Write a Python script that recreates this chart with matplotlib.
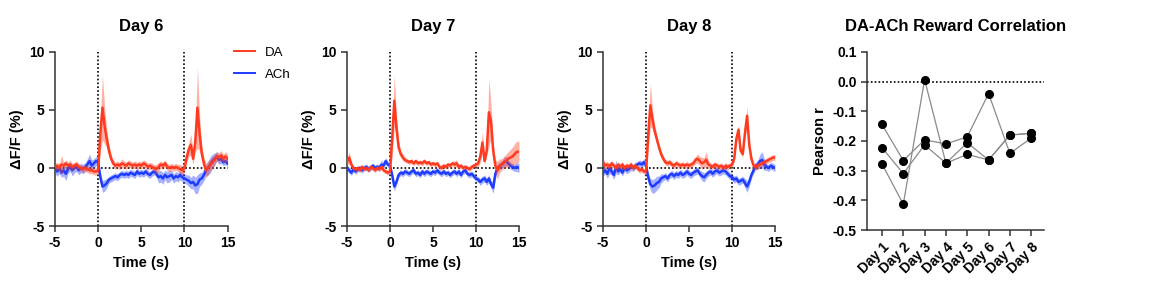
import matplotlib.pyplot as plt
import numpy as np

plt.rcParams['font.family'] = ['Liberation Sans', 'DejaVu Sans']
plt.rcParams['font.weight'] = 'bold'
plt.rcParams['axes.unicode_minus'] = False

RED = '#ff3a1e'
BLUE = '#1e3cff'

# photometry traces, 0.25 s bins from -5 to 15 s
time_s = np.arange(-5, 15.01, 0.25)

day6_da = [0.1, 0.2, 0.0, 0.3, 0.2, 0.4, 0.2, 0.3, 0.1, 0.2, 0.3, 0.1, 0.0, -0.1, 0.0, -0.1, -0.2, -0.2, -0.3, -0.3,
           -0.2, 3.0, 5.2, 3.6, 2.5, 1.5, 0.8, 0.4, 0.2, 0.3, 0.2, 0.4, 0.3, 0.2, 0.4, 0.3, 0.2, 0.3, 0.2, 0.3,
           0.2, 0.4, 0.3, 0.1, 0.2, 0.1, 0.0, -0.1, 0.1, 0.3, 0.2, 0.4, 0.1, 0.0, 0.1, 0.0, 0.1, 0.0, -0.1, -0.2,
           0.0, 0.9, 1.6, 2.0, 0.8, 2.2, 5.2, 3.0, 1.3, 0.4, -0.2, 0.0, 0.3, 0.5, 0.7, 1.0, 0.9, 1.1, 0.8, 1.0, 0.8]
day6_da_sem = [0.3, 0.3, 0.3, 0.8, 0.3, 0.3, 0.3, 0.4, 0.3, 0.3, 0.3, 0.3, 0.3, 0.3, 0.3, 0.3, 0.3, 0.3, 0.3, 0.3,
               0.3, 1.5, 2.8, 1.5, 0.8, 0.5, 0.4, 0.3, 0.3, 0.3, 0.3, 0.4, 0.3, 0.3, 0.3, 0.3, 0.3, 0.3, 0.3, 0.3,
               0.3, 0.3, 0.3, 0.3, 0.3, 0.3, 0.3, 0.4, 0.4, 0.3, 0.3, 0.3, 0.3, 0.3, 0.3, 0.3, 0.3, 0.3, 0.4, 0.4,
               0.4, 0.5, 0.6, 0.9, 0.5, 0.8, 3.5, 1.5, 0.6, 0.5, 0.6, 0.6, 0.5, 0.5, 0.5, 0.4, 0.4, 0.4, 0.4, 0.4, 0.4]
day6_ach = [-0.1, -0.3, 0.0, -0.4, -0.2, -0.5, -0.1, 0.1, -0.2, 0.0, 0.1, -0.2, 0.0, -0.1, 0.1, 0.3, 0.6, 0.2, 0.4, 0.6,
            0.5, -0.8, -1.6, -1.5, -1.3, -1.0, -0.9, -0.8, -0.7, -0.8, -0.6, -0.5, -0.6, -0.5, -0.6, -0.4, -0.5, -0.6, -0.3, -0.5,
            -0.4, -0.5, -0.3, -0.5, -0.6, -0.4, -0.3, -0.5, -0.8, -0.7, -0.9, -0.6, -0.8, -0.7, -0.6, -0.9, -0.7, -0.8, -0.6, -0.8,
            -0.9, -1.0, -1.1, -1.3, -1.2, -1.5, -1.4, -1.0, -0.9, -0.6, -0.2, 0.0, 0.3, 0.6, 0.8, 1.0, 0.7, 0.8, 0.5, 0.6, 0.4]
day6_ach_sem = [0.4, 0.4, 0.5, 0.4, 0.5, 0.6, 0.4, 0.4, 0.5, 0.4, 0.4, 0.4, 0.4, 0.4, 0.4, 0.5, 0.6, 0.5, 0.4, 0.4,
                0.4, 0.4, 0.5, 0.5, 0.4, 0.3, 0.3, 0.3, 0.3, 0.3, 0.3, 0.3, 0.3, 0.3, 0.3, 0.3, 0.3, 0.3, 0.3, 0.3,
                0.3, 0.3, 0.3, 0.3, 0.3, 0.3, 0.3, 0.3, 0.5, 0.5, 0.5, 0.4, 0.5, 0.5, 0.4, 0.4, 0.4, 0.4, 0.4, 0.4,
                0.4, 0.4, 0.5, 0.5, 0.6, 0.7, 0.8, 0.6, 0.5, 0.5, 0.5, 0.6, 0.7, 0.6, 0.5, 0.4, 0.4, 0.4, 0.3, 0.3, 0.3]

day7_da = [0.5, 0.9, 0.3, 0.0, -0.1, 0.0, -0.2, 0.1, -0.1, 0.0, -0.2, 0.1, 0.0, -0.2, 0.0, -0.1, 0.1, -0.2, -0.3, -0.4,
           -0.3, 2.5, 5.8, 3.5, 1.8, 1.2, 0.9, 0.7, 0.6, 0.5, 0.6, 0.4, 0.6, 0.4, 0.5, 0.4, 0.6, 0.4, 0.5, 0.3,
           0.4, 0.3, 0.4, 0.1, 0.0, 0.2, 0.1, 0.3, 0.2, 0.4, 0.3, 0.4, 0.1, 0.2, 0.0, 0.1, 0.0, -0.1, 0.1, 0.2,
           0.3, 0.4, 1.0, 2.2, 0.6, 1.5, 4.8, 4.0, 1.5, 0.2, -0.2, 0.2, 0.3, 0.5, 0.6, 0.8, 0.9, 1.0, 1.2, 1.4, 1.4]
day7_da_sem = [0.3, 0.5, 0.3, 0.2, 0.2, 0.2, 0.2, 0.2, 0.2, 0.2, 0.2, 0.2, 0.2, 0.2, 0.2, 0.2, 0.2, 0.2, 0.2, 0.2,
               0.2, 1.5, 2.2, 1.0, 0.5, 0.3, 0.3, 0.2, 0.2, 0.2, 0.2, 0.2, 0.2, 0.2, 0.2, 0.2, 0.2, 0.2, 0.2, 0.2,
               0.2, 0.2, 0.2, 0.2, 0.2, 0.2, 0.2, 0.2, 0.2, 0.2, 0.3, 0.3, 0.2, 0.2, 0.2, 0.2, 0.2, 0.2, 0.2, 0.2,
               0.2, 0.3, 0.5, 0.9, 0.3, 0.5, 2.9, 1.5, 0.6, 0.5, 0.8, 0.6, 0.5, 0.5, 0.6, 0.6, 0.7, 0.8, 0.9, 0.9, 0.9]
day7_ach = [0.0, -0.2, -0.4, -0.1, -0.3, -0.1, 0.0, -0.2, 0.0, 0.1, -0.1, 0.0, 0.2, 0.0, 0.1, 0.0, 0.3, 0.2, 0.6, 0.3,
            0.2, -0.6, -1.6, -1.2, -0.6, -0.4, -0.5, -0.3, -0.4, -0.5, -0.3, -0.2, -0.5, -0.4, -0.6, -0.3, -0.5, -0.3, -0.4, -0.5,
            -0.3, -0.4, -0.2, -0.4, -0.5, -0.3, -0.5, -0.4, -0.6, -0.4, -0.3, -0.5, -0.3, -0.6, -0.3, -0.2, -0.5, -0.6, -0.5, -0.7,
            -0.9, -1.0, -1.2, -1.0, -0.9, -1.2, -0.9, -1.4, -1.7, -0.5, 0.0, 0.2, 0.3, 0.5, 0.6, 0.4, 0.2, 0.1, 0.0, 0.1, 0.0]
day7_ach_sem = [0.25, 0.25, 0.25, 0.25, 0.25, 0.25, 0.25, 0.25, 0.25, 0.25, 0.25, 0.25, 0.25, 0.25, 0.25, 0.25, 0.4, 0.25, 0.3, 0.25,
                0.25, 0.3, 0.4, 0.3, 0.25, 0.25, 0.25, 0.25, 0.25, 0.25, 0.25, 0.25, 0.25, 0.25, 0.25, 0.25, 0.25, 0.25, 0.25, 0.25,
                0.25, 0.25, 0.25, 0.25, 0.25, 0.25, 0.25, 0.25, 0.25, 0.25, 0.25, 0.25, 0.25, 0.25, 0.25, 0.25, 0.25, 0.25, 0.25, 0.25,
                0.25, 0.25, 0.3, 0.3, 0.3, 0.3, 0.3, 0.3, 0.5, 0.4, 0.3, 0.3, 0.3, 0.4, 0.4, 0.3, 0.3, 0.3, 0.3, 0.4, 0.4]

day8_da = [0.5, 0.2, 0.3, 0.1, 0.4, 0.2, 0.0, 0.3, 0.1, 0.3, 0.0, 0.2, 0.1, 0.3, 0.0, 0.2, 0.0, -0.2, -0.1, -0.3,
           -0.3, 2.8, 5.4, 4.2, 3.2, 2.5, 1.8, 1.2, 0.8, 0.5, 0.4, 0.5, 0.3, 0.2, 0.4, 0.3, 0.2, 0.3, 0.2, 0.3,
           0.2, 0.3, 0.4, 0.7, 0.8, 0.6, 0.4, 0.5, 0.7, 0.3, 0.2, 0.1, 0.3, 0.2, 0.1, 0.2, 0.0, 0.2, 0.1, 0.2,
           0.3, 0.8, 2.5, 3.3, 1.5, 1.2, 3.0, 4.5, 2.0, 0.8, 0.2, 0.1, 0.2, 0.3, 0.4, 0.5, 0.6, 0.7, 0.8, 0.9, 0.9]
day8_da_sem = [0.3, 0.3, 0.25, 0.25, 0.25, 0.25, 0.25, 0.25, 0.25, 0.25, 0.25, 0.25, 0.25, 0.25, 0.25, 0.25, 0.25, 0.25, 0.25, 0.25,
               0.25, 1.2, 1.9, 0.8, 0.5, 0.4, 0.3, 0.3, 0.3, 0.25, 0.25, 0.25, 0.25, 0.25, 0.25, 0.25, 0.25, 0.25, 0.25, 0.25,
               0.25, 0.25, 0.25, 0.3, 0.4, 0.4, 0.5, 0.4, 0.7, 0.3, 0.25, 0.25, 0.25, 0.25, 0.25, 0.25, 0.25, 0.25, 0.25, 0.25,
               0.25, 0.3, 0.4, 0.4, 0.3, 0.3, 0.5, 0.8, 0.4, 0.3, 0.3, 0.3, 0.3, 0.25, 0.25, 0.25, 0.25, 0.25, 0.25, 0.25, 0.25]
day8_ach = [-0.4, -0.2, -0.5, 0.0, -0.3, -0.6, 0.1, -0.3, -0.1, -0.4, 0.0, -0.2, -0.1, 0.1, 0.0, 0.2, 0.3, 0.4, 0.3, 0.5,
            0.2, -0.8, -1.4, -1.6, -1.5, -1.3, -1.2, -0.9, -0.8, -0.7, -0.9, -0.6, -0.5, -0.7, -0.5, -0.6, -0.4, -0.6, -0.5, -0.3,
            -0.5, -0.6, -0.4, -0.3, -0.2, -0.5, -0.7, -0.8, -0.6, -0.4, -0.3, -0.5, -0.3, -0.2, -0.4, -0.3, -0.2, -0.3, -0.5, -0.7,
            -0.8, -1.0, -0.9, -1.2, -1.1, -1.0, -1.3, -1.6, -1.2, -0.6, -0.2, 0.2, 0.3, 0.6, 0.7, 0.3, 0.1, 0.0, 0.2, 0.1, 0.0]
day8_ach_sem = [0.3, 0.3, 0.4, 0.5, 0.3, 0.4, 0.6, 0.3, 0.3, 0.3, 0.3, 0.3, 0.3, 0.3, 0.3, 0.3, 0.3, 0.3, 0.3, 0.3,
                0.3, 0.4, 0.5, 0.6, 0.6, 0.6, 0.5, 0.4, 0.3, 0.3, 0.3, 0.3, 0.3, 0.3, 0.3, 0.3, 0.3, 0.3, 0.3, 0.3,
                0.3, 0.3, 0.3, 0.3, 0.3, 0.3, 0.4, 0.4, 0.3, 0.3, 0.3, 0.3, 0.3, 0.3, 0.3, 0.3, 0.3, 0.3, 0.3, 0.3,
                0.3, 0.3, 0.3, 0.3, 0.3, 0.3, 0.4, 0.5, 0.4, 0.3, 0.3, 0.3, 0.4, 0.6, 0.7, 0.5, 0.3, 0.3, 0.3, 0.3, 0.3]

# DA-ACh correlation, one line per animal
days = ['Day 1', 'Day 2', 'Day 3', 'Day 4', 'Day 5', 'Day 6', 'Day 7', 'Day 8']
corr_a = [-0.144, -0.266, -0.196, -0.210, -0.186, -0.040, -0.242, -0.190]
corr_b = [-0.222, -0.310, -0.213, -0.275, -0.206, -0.264, -0.180, -0.174]
corr_c = [-0.277, -0.413, 0.007, -0.275, -0.245, -0.264, -0.180, -0.174]


def style_axes(ax):
    for side in ['top', 'right']:
        ax.spines[side].set_visible(False)
    for side in ['left', 'bottom']:
        ax.spines[side].set_linewidth(1.1)
        ax.spines[side].set_color('#333333')
    ax.tick_params(direction='out', length=4, width=1.1, color='#333333', labelsize=10)


def trace_panel(ax, title, da, da_sem, ach, ach_sem):
    da, da_sem = np.array(da), np.array(da_sem)
    ach, ach_sem = np.array(ach), np.array(ach_sem)
    assert len(da) == len(time_s) and len(ach) == len(time_s)
    assert len(da_sem) == len(time_s) and len(ach_sem) == len(time_s)
    dots = (0, (1, 1.3))
    ax.axvline(0, color='k', ls=dots, lw=1.2, zorder=1)
    ax.axvline(10, color='k', ls=dots, lw=1.2, zorder=1)
    ax.axhline(0, color='k', ls=dots, lw=1.2, zorder=1)
    ax.fill_between(time_s, ach - ach_sem, ach + ach_sem, color=BLUE, alpha=0.4, lw=0, zorder=2)
    ax.plot(time_s, ach, color=BLUE, lw=1.8, zorder=3, label='ACh')
    ax.fill_between(time_s, da - da_sem, da + da_sem, color=RED, alpha=0.4, lw=0, zorder=4)
    ax.plot(time_s, da, color=RED, lw=1.8, zorder=5, label='DA')
    ax.set_xlim(-5, 15)
    ax.set_ylim(-5, 10)
    ax.set_xticks([-5, 0, 5, 10, 15])
    ax.set_yticks([-5, 0, 5, 10])
    style_axes(ax)
    ax.set_title(title, fontsize=12, fontweight='bold', pad=15)
    ax.set_xlabel('Time (s)', fontsize=10.5, fontweight='bold', labelpad=4)
    ax.set_ylabel('ΔF/F (%)', fontsize=10.5, fontweight='bold')


fig = plt.figure(figsize=(11.66, 2.92), dpi=100)
ax1 = fig.add_axes([0.0472, 0.226, 0.148, 0.596])
ax2 = fig.add_axes([0.2976, 0.226, 0.1475, 0.596])
ax3 = fig.add_axes([0.5172, 0.226, 0.1475, 0.596])
ax4 = fig.add_axes([0.7436, 0.2123, 0.1518, 0.6097])

trace_panel(ax1, 'Day 6', day6_da, day6_da_sem, day6_ach, day6_ach_sem)
trace_panel(ax2, 'Day 7', day7_da, day7_da_sem, day7_ach, day7_ach_sem)
trace_panel(ax3, 'Day 8', day8_da, day8_da_sem, day8_ach, day8_ach_sem)

handles, labels = ax1.get_legend_handles_labels()
leg = ax1.legend(handles[::-1], labels[::-1], loc='upper left', bbox_to_anchor=(0.97, 1.1),
                 frameon=False, handlelength=1.55, handletextpad=0.8, fontsize=9.5, labelspacing=0.75)
for txt in leg.get_texts():
    txt.set_fontweight('normal')
for line in leg.get_lines():
    line.set_linewidth(1.4)

x = np.arange(1, len(days) + 1)
ax4.axhline(0, color='k', ls=(0, (1, 1.3)), lw=1.2, zorder=1)
for series in [corr_a, corr_b, corr_c]:
    ax4.plot(x, series, color='#8a8a8a', lw=0.9, zorder=2)
    ax4.plot(x, series, 'o', color='k', ms=5.5, zorder=3)
ax4.set_xlim(0.3, 8.6)
ax4.set_ylim(-0.5, 0.1)
ax4.set_yticks(np.arange(-0.5, 0.11, 0.1))
ax4.set_yticklabels(['-0.5', '-0.4', '-0.3', '-0.2', '-0.1', '0.0', '0.1'])
ax4.set_xticks(x)
ax4.set_xticklabels(days, rotation=45, ha='right', rotation_mode='anchor')
style_axes(ax4)
ax4.set_title('DA-ACh Reward Correlation', fontsize=12, fontweight='bold', pad=15)
ax4.set_ylabel('Pearson r', fontsize=10.5, fontweight='bold')

fig.savefig('out.png', dpi=100)
